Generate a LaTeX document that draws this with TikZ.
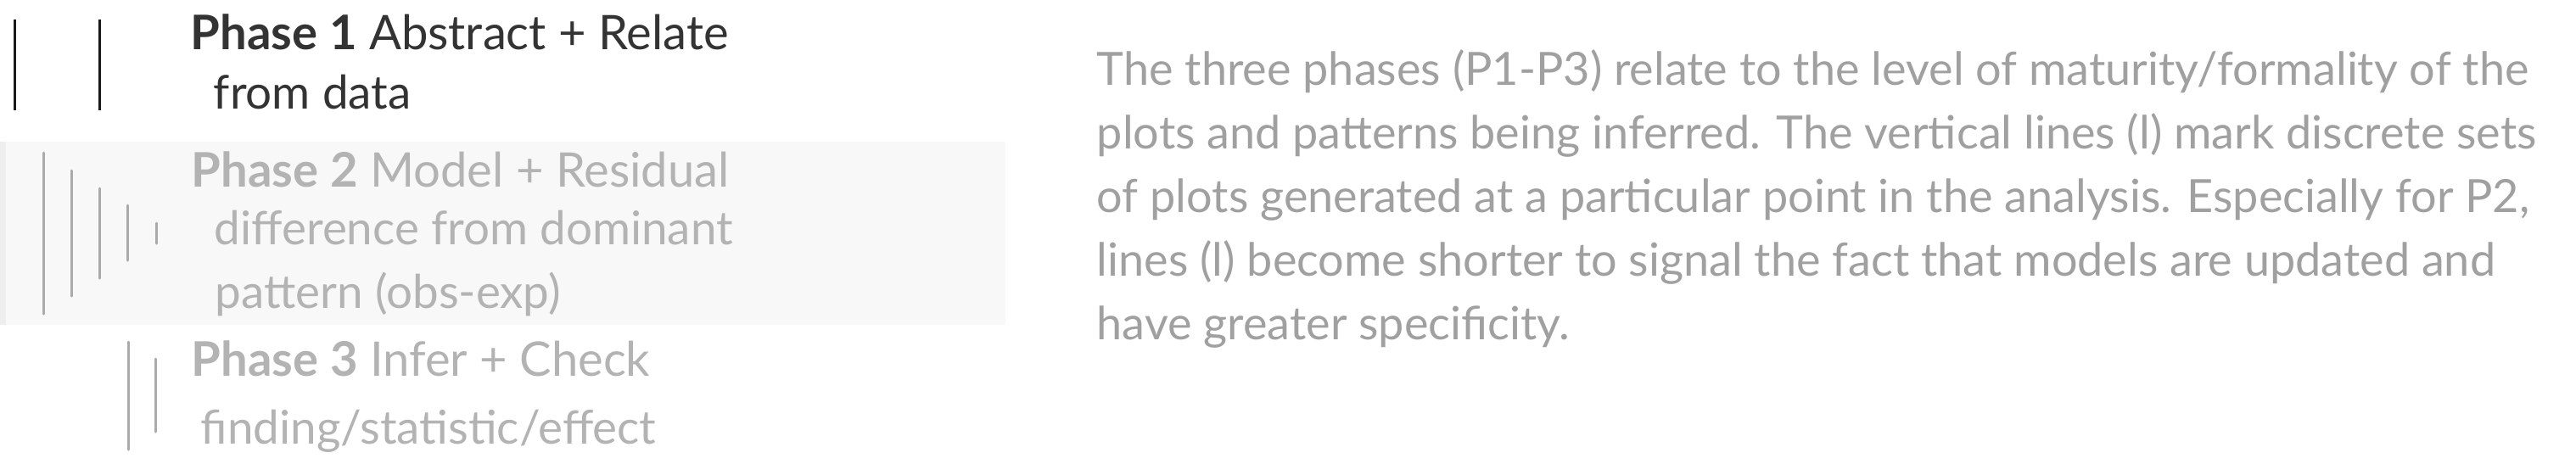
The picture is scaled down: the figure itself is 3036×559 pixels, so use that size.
\documentclass[tikz,border=0pt]{standalone}
\usepackage{fontspec}
\setmainfont{Lato}
\definecolor{paragray}{HTML}{A0A0A0}
\definecolor{phasegray}{HTML}{B3B3B3}
\definecolor{linegray}{HTML}{AAAAAA}
\definecolor{bandfill}{HTML}{F8F8F8}
\definecolor{bandedge}{HTML}{EEEEEE}
\definecolor{darktext}{HTML}{333333}
\begin{document}
\begin{tikzpicture}[x=0.25pt,y=-0.25pt]
\tikzset{
  titletxt/.style={inner sep=0pt, anchor=base west, font=\fontsize{14.05}{16}\selectfont},
  subtxt/.style={inner sep=0pt, anchor=base west, font=\fontsize{13.7}{16}\selectfont},
  paratxt/.style={inner sep=0pt, anchor=base west, text=paragray, font=\fontsize{13.5}{16}\selectfont},
  darkmark/.style={line width=0.75pt, draw=black!90},
  graymark/.style={line width=0.75pt, draw=linegray, line cap=round},
}
\useasboundingbox (0,0) rectangle (3036,559);
% band behind phase 2
\fill[bandfill] (0,167) rectangle (1185,383);
\fill[bandedge] (0,167) rectangle (7,383);
% phase 1 marks
\draw[darkmark] (17,23) -- (17,130);
\draw[darkmark] (117,23) -- (117,130);
% phase 2 marks
\draw[graymark] (51,180) -- (51,370);
\draw[graymark] (84,201) -- (84,349);
\draw[graymark] (117,222) -- (117,328);
\draw[graymark] (150,242) -- (150,307);
\draw[graymark] (184,263) -- (184,287);
% phase 3 marks
\draw[graymark] (151,403) -- (151,530);
\draw[graymark] (183,423) -- (183,509);
% phase texts
\node[titletxt, text=darktext] (p1t) at (224,58) {\textbf{Phase 1} Abstract + Relate};
\node[subtxt, text=darktext] (p1s) at (251,128) {from data};
\node[titletxt, text=phasegray] (p2t) at (225,220) {\textbf{Phase 2} Model + Residual};
\node[subtxt, text=phasegray] (p2s) at (252,288) {difference from dominant};
\node[subtxt, text=phasegray] (p2u) at (253,363) {pattern (obs-exp)};
\node[titletxt, text=phasegray] (p3t) at (225,443) {\textbf{Phase 3} Infer + Check};
\node[subtxt, text=phasegray] (p3s) at (236,523) {finding/statistic/effect};
% paragraph
\node[paratxt] (l1) at (1292,100) {The three phases (P1-P3) relate to the level of maturity/formality of the};
\node[paratxt] (l2) at (1292,175) {plots and patterns being inferred. The vertical lines (l) mark discrete sets};
\node[paratxt] (l3) at (1292,250) {of plots generated at a particular point in the analysis. Especially for P2,};
\node[paratxt] (l4) at (1292,325) {lines (l) become shorter to signal the fact that models are updated and};
\node[paratxt] (l5) at (1292,400) {have greater specificity.};
\end{tikzpicture}
\end{document}
